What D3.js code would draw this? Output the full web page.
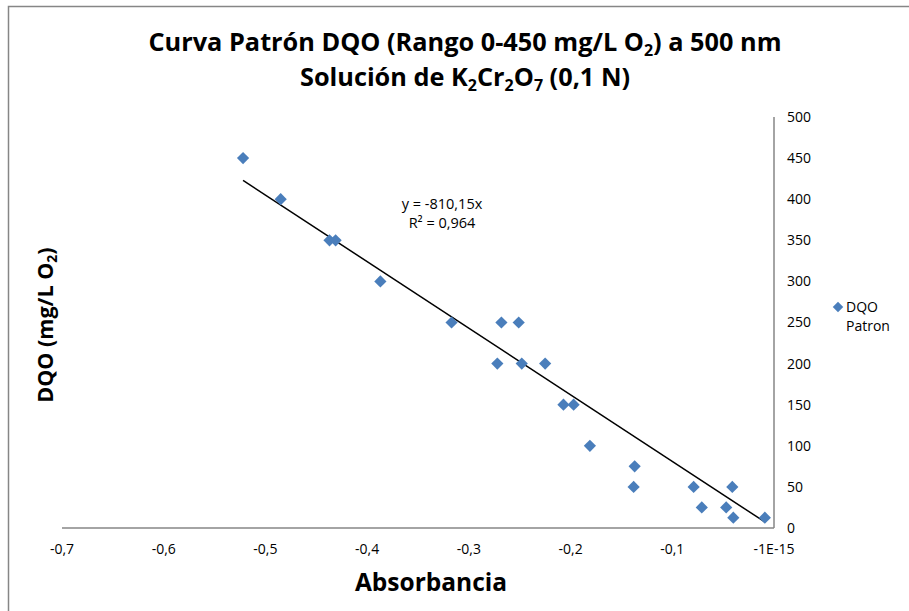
<!DOCTYPE html>
<html lang="es">
<head>
<meta charset="UTF-8">
<title>Curva Patrón DQO</title>
<style>
  body { margin: 0; background: #fff; }
  svg { display: block; font-family: "Open Sans", "Liberation Sans", sans-serif; }
</style>
</head>
<body>
<script src="https://cdn.jsdelivr.net/npm/d3@7"></script>
<script>
  const width = 909, height = 611;

  // absorbancia (x) y DQO en mg/L O2 (y)
  const absorbancia = [-0.522, -0.485, -0.437, -0.431, -0.387, -0.317, -0.268, -0.251,
                       -0.272, -0.248, -0.225, -0.207, -0.197, -0.181, -0.137, -0.138,
                       -0.079, -0.071, -0.047, -0.041, -0.040, -0.009];
  const dqo = [450, 400, 350, 350, 300, 250, 250, 250,
               200, 200, 200, 150, 150, 100, 75, 50,
               50, 25, 25, 50, 12.5, 12.5];
  const xTicks = [-0.7, -0.6, -0.5, -0.4, -0.3, -0.2, -0.1, 0];
  const xTickLabels = ["-0,7", "-0,6", "-0,5", "-0,4", "-0,3", "-0,2", "-0,1", "-1E-15"];
  const yTicks = [0, 50, 100, 150, 200, 250, 300, 350, 400, 450, 500];
  const slope = -810.15;

  const svg = d3.select("body").append("svg").attr("width", width).attr("height", height);

  // chart border
  svg.append("path").attr("d", "M8.5,611 V6.5 H909")
     .attr("fill", "none").attr("stroke", "#868686").attr("stroke-width", 1.5);

  const x = d3.scaleLinear().domain([-0.7, 0]).range([62, 774]);
  const y = d3.scaleLinear().domain([0, 500]).range([528, 117]);

  // axes lines
  svg.append("line").attr("x1", 62).attr("x2", 774).attr("y1", y(0)).attr("y2", y(0))
     .attr("stroke", "#868686").attr("stroke-width", 1.5);
  svg.append("line").attr("x1", x(0)).attr("x2", x(0)).attr("y1", 117).attr("y2", 528)
     .attr("stroke", "#868686").attr("stroke-width", 1.5);

  // x tick labels
  svg.append("g").selectAll("text")
     .data(xTicks)
     .join("text")
     .attr("x", d => x(d))
     .attr("y", 554)
     .attr("text-anchor", "middle")
     .attr("font-size", 14)
     .attr("fill", "#000")
     .text((d, i) => xTickLabels[i]);

  // y tick labels (right side, at x = 0)
  svg.append("g").selectAll("text")
     .data(yTicks)
     .join("text")
     .attr("x", x(0) + 13)
     .attr("y", d => y(d))
     .attr("dy", "0.35em")
     .attr("font-size", 14)
     .attr("fill", "#000")
     .text(d => d);

  // trendline
  const xs = d3.extent(absorbancia);
  svg.append("line")
     .attr("x1", x(xs[0])).attr("y1", y(slope * xs[0]))
     .attr("x2", x(xs[1])).attr("y2", y(slope * xs[1]))
     .attr("stroke", "#000").attr("stroke-width", 1.5);

  // points
  const diamond = d3.symbol().type(d3.symbolDiamond2).size(95);
  svg.append("g").selectAll("path")
     .data(absorbancia.map((a, i) => [a, dqo[i]]))
     .join("path")
     .attr("transform", d => `translate(${x(d[0])},${y(d[1])})`)
     .attr("d", diamond)
     .attr("fill", "#4a7ebb");

  // equation
  const eq = svg.append("text").attr("font-size", 14.5).attr("text-anchor", "middle");
  eq.append("tspan").attr("x", 442).attr("y", 209).text("y = -810,15x");
  eq.append("tspan").attr("x", 442).attr("y", 228).text("R² = 0,964");

  // title
  const t = svg.append("text").attr("text-anchor", "middle").attr("font-weight", "bold")
     .attr("font-size", 25.3).attr("fill", "#000");
  const l1 = t.append("tspan").attr("x", 465).attr("y", 51);
  l1.append("tspan").text("Curva Patrón DQO (Rango 0-450 mg/L O");
  l1.append("tspan").attr("font-size", 16).attr("dy", 5).text("2");
  l1.append("tspan").attr("dy", -5).text(") a 500 nm");
  const l2 = t.append("tspan").attr("x", 465).attr("y", 86);
  l2.append("tspan").text("Solución de K");
  l2.append("tspan").attr("font-size", 16).attr("dy", 5).text("2");
  l2.append("tspan").attr("dy", -5).text("Cr");
  l2.append("tspan").attr("font-size", 16).attr("dy", 5).text("2");
  l2.append("tspan").attr("dy", -5).text("O");
  l2.append("tspan").attr("font-size", 16).attr("dy", 5).text("7");
  l2.append("tspan").attr("dy", -5).text(" (0,1 N)");

  // x axis title
  svg.append("text").attr("x", 431).attr("y", 591).attr("text-anchor", "middle")
     .attr("font-weight", "bold").attr("font-size", 24.5).text("Absorbancia");

  // y axis title
  const yt = svg.append("text").attr("transform", "translate(53,325) rotate(-90)")
     .attr("text-anchor", "middle").attr("font-weight", "bold").attr("font-size", 21.5);
  yt.append("tspan").text("DQO (mg/L O");
  yt.append("tspan").attr("font-size", 14).attr("dy", 4).text("2");
  yt.append("tspan").attr("dy", -4).text(")");

  // legend
  svg.append("path").attr("transform", "translate(838,307)")
     .attr("d", d3.symbol().type(d3.symbolDiamond2).size(70)).attr("fill", "#4a7ebb");
  const lg = svg.append("text").attr("font-size", 14);
  lg.append("tspan").attr("x", 846).attr("y", 312).text("DQO");
  lg.append("tspan").attr("x", 846).attr("y", 331).text("Patron");
</script>
</body>
</html>
